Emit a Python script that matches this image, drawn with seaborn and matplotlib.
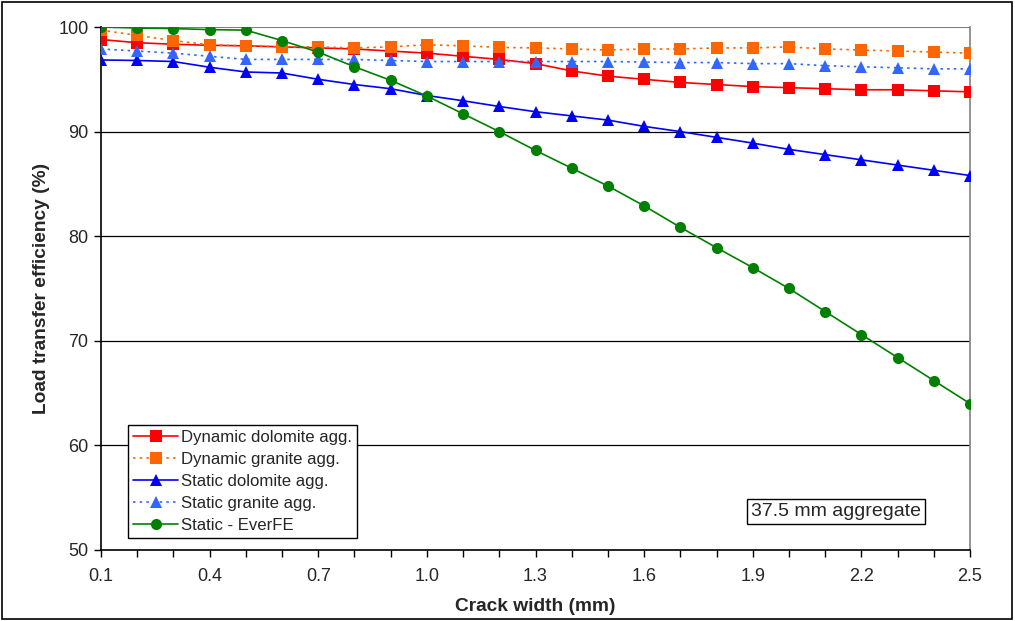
import matplotlib
matplotlib.use("Agg")
import matplotlib.pyplot as plt
import seaborn as sns
import pandas as pd
from matplotlib.patches import Rectangle

crack_width = [0.1, 0.2, 0.3, 0.4, 0.5, 0.6, 0.7, 0.8, 0.9, 1.0, 1.1, 1.2, 1.3,
               1.4, 1.5, 1.6, 1.7, 1.8, 1.9, 2.0, 2.1, 2.2, 2.3, 2.4, 2.5]

dynamic_dolomite = [98.8, 98.5, 98.35, 98.25, 98.2, 98.1, 98.0, 97.9, 97.7, 97.5,
                    97.2, 96.9, 96.5, 95.8, 95.3, 95.0, 94.7, 94.5, 94.3, 94.2,
                    94.1, 94.0, 94.0, 93.9, 93.8]
dynamic_granite = [99.7, 99.2, 98.7, 98.3, 98.2, 98.1, 98.1, 98.0, 98.1, 98.3,
                   98.2, 98.05, 98.0, 97.9, 97.8, 97.9, 97.9, 98.0, 98.0, 98.1,
                   97.9, 97.8, 97.7, 97.6, 97.5]
static_dolomite = [96.85, 96.8, 96.7, 96.15, 95.7, 95.6, 95.0, 94.5, 94.1, 93.45,
                   92.95, 92.4, 91.9, 91.5, 91.1, 90.5, 90.0, 89.45, 88.9, 88.3,
                   87.8, 87.3, 86.8, 86.3, 85.8]
static_granite = [97.9, 97.7, 97.5, 97.2, 96.9, 96.9, 96.9, 96.9, 96.8, 96.7,
                  96.7, 96.7, 96.7, 96.7, 96.7, 96.65, 96.6, 96.6, 96.5, 96.5,
                  96.3, 96.2, 96.1, 96.0, 96.0]
static_everfe = [100.0, 99.9, 99.85, 99.75, 99.7, 98.7, 97.6, 96.2, 94.9, 93.4,
                 91.7, 90.0, 88.2, 86.5, 84.8, 82.9, 80.85, 78.9, 77.0, 75.0,
                 72.8, 70.6, 68.4, 66.2, 64.0]

series_names = ["Dynamic dolomite agg.", "Dynamic granite agg.", "Static dolomite agg.",
                "Static granite agg.", "Static - EverFE"]
series_values = [dynamic_dolomite, dynamic_granite, static_dolomite, static_granite, static_everfe]

x_tick_labels = ["0.1", "0.4", "0.7", "1.0", "1.3", "1.6", "1.9", "2.2", "2.5"]
y_ticks = [50, 60, 70, 80, 90, 100]

styles = {
    "Dynamic dolomite agg.": dict(color="#FF0000", marker="s", ls="-", ms=8),
    "Dynamic granite agg.": dict(color="#FF6600", marker="s", ls=(0, (1.5, 2.5)), ms=8),
    "Static dolomite agg.": dict(color="#0000FF", marker="^", ls="-", ms=8.5),
    "Static granite agg.": dict(color="#3366FF", marker="^", ls=(0, (1.5, 2.5)), ms=8.5),
    "Static - EverFE": dict(color="#008000", marker="o", ls="-", ms=8),
}

rows = []
for name, vals in zip(series_names, series_values):
    for xv, yv in zip(crack_width, vals):
        rows.append({"Crack width (mm)": xv, "LTE": yv, "series": name})
df = pd.DataFrame(rows)

sns.set_theme(style="white")
plt.rcParams["font.family"] = ["Liberation Sans", "DejaVu Sans"]

fig = plt.figure(figsize=(10.15, 6.21), dpi=100)
ax = fig.add_axes([101 / 1015, 1 - 550 / 621, 869 / 1015, 523 / 621])

for name in series_names:
    st = styles[name]
    sub = df[df["series"] == name]
    sns.lineplot(data=sub, x="Crack width (mm)", y="LTE", ax=ax, color=st["color"],
                 marker=st["marker"], markersize=st["ms"], markeredgewidth=0,
                 linestyle=st["ls"], linewidth=1.2, label=name, zorder=3)

ax.set_xlim(0.1, 2.5)
ax.set_ylim(50, 100)
ax.set_xticks([float(t) for t in x_tick_labels])
ax.set_xticklabels(x_tick_labels)
ax.set_xticks(crack_width, minor=True)
ax.set_yticks(y_ticks)
ax.set_yticklabels([str(t) for t in y_ticks])
ax.tick_params(axis="both", which="both", direction="out", length=5, width=1,
               color="black", labelsize=13, bottom=True, left=True)
ax.tick_params(axis="x", pad=8)
ax.tick_params(axis="y", pad=4)

for yv in [60, 70, 80, 90]:
    ax.axhline(yv, color="black", lw=0.9, zorder=1)
ax.axhline(100, color="#808080", lw=1.5, zorder=1)

for side in ["left", "bottom"]:
    ax.spines[side].set_color("black")
    ax.spines[side].set_linewidth(1.2)
ax.spines["right"].set_color("#808080")
ax.spines["right"].set_linewidth(1.2)
ax.spines["top"].set_visible(False)

ax.set_xlabel("Crack width (mm)", fontsize=13.8, fontweight="bold", labelpad=9)
ax.set_ylabel("Load transfer efficiency (%)", fontsize=13.8, fontweight="bold", labelpad=6)

leg = ax.legend(loc="lower left", bbox_to_anchor=(0.031, 0.023), fontsize=12.1,
                frameon=True, fancybox=False, edgecolor="black", framealpha=1,
                handlelength=2.7, handletextpad=0.15, labelspacing=0.42,
                borderpad=0.3, borderaxespad=0)
leg.get_frame().set_linewidth(1.0)

ax.text(0.846, 0.073, "37.5 mm aggregate", transform=ax.transAxes, fontsize=14,
        ha="center", va="center",
        bbox=dict(boxstyle="square,pad=0.2", fc="white", ec="black", lw=1.0))

fig.patches.append(Rectangle((0.002, 0.003), 0.995, 0.994, transform=fig.transFigure,
                             fill=False, edgecolor="black", lw=1.2))

fig.savefig("out.png", dpi=100)
